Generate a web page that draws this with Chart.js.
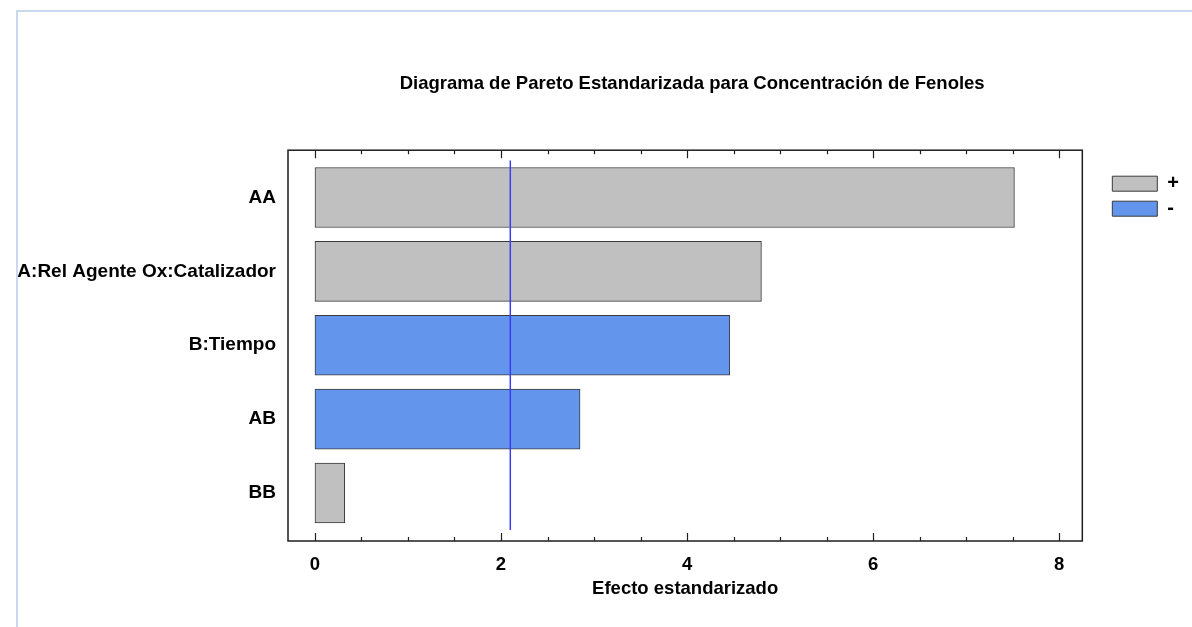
<!DOCTYPE html>
<html>
<head>
<meta charset="utf-8">
<title>Diagrama de Pareto Estandarizada</title>
<script src="https://cdn.jsdelivr.net/npm/chart.js@4.4.1/dist/chart.umd.min.js"></script>
<style>
  html, body { margin: 0; padding: 0; background: #ffffff; }
  #wrap { position: relative; width: 1192px; height: 627px; }
  #frame {
    position: absolute; left: 16px; top: 10px; right: 0; bottom: 0;
    border-top: 2px solid #c9d9ee; border-left: 2px solid #c9d9ee;
    pointer-events: none;
  }
  canvas { position: absolute; left: 0; top: 0; }
</style>
</head>
<body>
<div id="wrap">
  <canvas id="chart" width="1192" height="627"></canvas>
  <div id="frame"></div>
</div>
<script>
// Pareto terms, in display order (largest standardized effect first)
const terms = ['AA', 'A:Rel Agente Ox:Catalizador', 'B:Tiempo', 'AB', 'BB'];
// Absolute standardized effect of each term
const effects = [7.52, 4.80, 4.46, 2.85, 0.32];
// Sign of each effect
const signs = ['+', '+', '-', '-', '+'];
// Critical t value (significance line)
const criticalValue = 2.1;
// Labelled ticks on the effect axis
const effectTicks = [0, 2, 4, 6, 8];

const FONT = "'Liberation Sans', Arial, sans-serif";
const LEGEND_FONT = 20, LEGEND_BOX_H = 15, LEGEND_PAD = 5;

function pointsFor(sign) {
  return effects.map((v, i) => signs[i] === sign ? { x: v, y: i } : null).filter(p => p);
}

// Frame around the plot and inward tick marks on top and bottom edges
const framePlugin = {
  id: 'plotFrame',
  afterDraw(chart) {
    const { ctx, chartArea: a, scales } = chart;
    const xs = scales.x;
    ctx.save();
    ctx.strokeStyle = '#1e1e1e';
    ctx.lineWidth = 1.5;
    ctx.strokeRect(a.left, a.top, a.right - a.left, a.bottom - a.top);
    ctx.lineWidth = 1.2;
    const first = effectTicks[0], last = effectTicks[effectTicks.length - 1];
    for (let v = first; v <= last + 1e-9; v += 0.5) {
      const px = Math.round(xs.getPixelForValue(v)) + 0.5;
      const major = effectTicks.includes(v);
      const len = major ? 8 : 4;
      ctx.beginPath();
      ctx.moveTo(px, a.bottom); ctx.lineTo(px, a.bottom - len);
      ctx.moveTo(px, a.top); ctx.lineTo(px, a.top + len);
      ctx.stroke();
    }
    ctx.restore();
  }
};

// Places the legend beside the top of the plot and nudges the title
const placement = {
  id: 'placement',
  afterLayout(chart) {
    const a = chart.chartArea;
    const lg = chart.legend;
    if (lg) {
      const left = a.right + 30 - LEGEND_PAD;
      const top = a.top + 26 - LEGEND_PAD - (LEGEND_FONT - LEGEND_BOX_H) / 2;
      const dx = left - lg.left, dy = top - lg.top;
      lg.left += dx; lg.right += dx;
      lg.top += dy; lg.bottom += dy;
    }
    const tb = chart.titleBlock;
    if (tb) { tb.left += 7; tb.right += 7; }
  }
};

new Chart(document.getElementById('chart'), {
  type: 'bar',
  data: {
    datasets: [
      {
        label: '+',
        data: pointsFor('+'),
        backgroundColor: '#c0c0c0',
        borderColor: '#3a3a3a',
        borderWidth: 1,
        borderSkipped: false,
        barThickness: 60,
        grouped: false,
        order: 1
      },
      {
        label: '-',
        data: pointsFor('-'),
        backgroundColor: '#6495ed',
        borderColor: '#3a3a3a',
        borderWidth: 1,
        borderSkipped: false,
        barThickness: 60,
        grouped: false,
        order: 1
      },
      {
        type: 'line',
        label: 'critical',
        data: [{ x: criticalValue, y: -0.5 }, { x: criticalValue, y: terms.length - 0.5 }],
        borderColor: '#3c3cf5',
        borderWidth: 1.5,
        pointRadius: 0,
        fill: false,
        order: 0
      }
    ]
  },
  options: {
    indexAxis: 'y',
    responsive: false,
    animation: false,
    layout: { padding: { left: 0, right: 28, top: 0, bottom: 0 } },
    scales: {
      x: {
        type: 'linear',
        min: -0.29,
        max: 8.25,
        afterBuildTicks(scale) { scale.ticks = effectTicks.map(v => ({ value: v })); },
        afterFit(scale) { scale.height = 86; },
        grid: { display: false, drawTicks: false },
        border: { display: false },
        ticks: {
          padding: 13,
          color: '#000',
          font: { family: FONT, size: 18.5, weight: 'bold' }
        },
        title: {
          display: true,
          text: 'Efecto estandarizado',
          color: '#000',
          font: { family: FONT, size: 18.5, weight: 'bold' },
          padding: { top: 4, bottom: 27 }
        }
      },
      y: {
        type: 'linear',
        reverse: true,
        offset: false,
        grace: 0,
        min: -0.64,
        max: 4.65,
        afterBuildTicks(scale) { scale.ticks = terms.map((_, i) => ({ value: i })); },
        afterFit(scale) { scale.width = 288; },
        grid: { display: false, drawTicks: false, offset: false },
        border: { display: false },
        ticks: {
          padding: 12,
          color: '#000',
          font: { family: FONT, size: 19, weight: 'bold' },
          callback: v => terms[v]
        }
      }
    },
    plugins: {
      title: {
        display: true,
        fullSize: false,
        text: 'Diagrama de Pareto Estandarizada para Concentración de Fenoles',
        color: '#000',
        font: { family: FONT, size: 18.5, weight: 'bold' },
        padding: { top: 73, bottom: 55 }
      },
      legend: {
        display: true,
        position: 'right',
        align: 'start',
        labels: {
          boxWidth: 45,
          boxHeight: LEGEND_BOX_H,
          padding: LEGEND_PAD,
          color: '#000',
          font: { family: FONT, size: LEGEND_FONT, weight: 'bold' },
          filter: item => item.datasetIndex < 2
        }
      },
      tooltip: { enabled: false }
    }
  },
  plugins: [framePlugin, placement]
});
</script>
</body>
</html>
